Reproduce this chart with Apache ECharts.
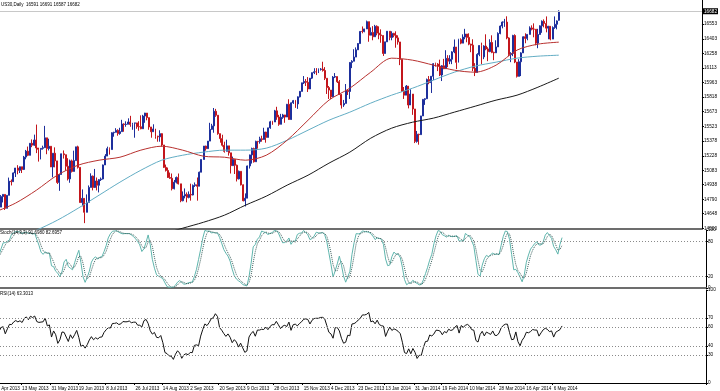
<!DOCTYPE html>
<html><head><meta charset="utf-8">
<script src="https://cdn.jsdelivr.net/npm/echarts@6/dist/echarts.min.js"></script>
<style>html,body{margin:0;padding:0;background:#fff;overflow:hidden;width:720px;height:391px;position:relative}
#c{position:absolute;left:-42px;top:0;width:762px;height:391px}</style>
</head><body><div id="c"></div>
<script>
// ---------- data ----------
const mainTitle = 'US30,Daily  16591 16691 16587 16682';
const stochTitle = 'Stoch(14,3,3) 91.6980 82.6957';
const rsiTitle = 'RSI(14) 63.3013';
const firstDay = '2013-04-01';
const lastDay = '2014-05-12';
const closedDays = ['2013-12-25', '2014-01-01', '2014-04-18'];
const padBars = 68;
const xTickLabels = ['24 Apr 2013','13 May 2013','31 May 2013','19 Jun 2013','8 Jul 2013','26 Jul 2013','14 Aug 2013','2 Sep 2013','20 Sep 2013','9 Oct 2013','28 Oct 2013','15 Nov 2013','4 Dec 2013','23 Dec 2013','13 Jan 2014','31 Jan 2014','19 Feb 2014','10 Mar 2014','28 Mar 2014','16 Apr 2014','6 May 2014'];
const priceTicks = [16553,16403,16258,16113,15963,15818,15673,15523,15378,15228,15083,14938,14790,14648,14500];
const stochTicks = [0,20,80,100];
const stochLevels = [20,80];
const rsiTicks = [0,30,40,60,70,100];
const rsiLevels = [30,40,60,70];
const currentPrice = 16682;

// daily bars: [open, close, low, high]
const ohlc = [
// Apr 2013
[14580,14573,14532,14600],[14574,14662,14574,14684],[14661,14550,14522,14670],[14550,14607,14540,14626],[14606,14565,14434,14606],
[14565,14613,14536,14615],[14613,14673,14591,14710],[14673,14802,14673,14826],[14802,14865,14795,14888],[14865,14865,14776,14870],
[14865,14599,14582,14866],[14599,14757,14599,14758],[14757,14619,14555,14757],[14619,14537,14444,14628],[14537,14548,14510,14582],
[14548,14568,14465,14600],[14568,14719,14568,14726],[14719,14676,14640,14720],[14676,14700,14676,14770],[14700,14712,14640,14720],
[14712,14818,14712,14833],[14818,14840,14759,14840],
// May 2013
[14840,14700,14683,14840],[14700,14831,14700,14831],[14831,14973,14831,15009],
[14973,14968,14930,14990],[14968,15056,14968,15061],[15056,15105,15015,15106],[15105,15082,15042,15134],[15082,15118,15055,15119],
[15118,15091,15055,15118],[15091,15215,15085,15227],[15215,15275,15193,15287],[15275,15233,15225,15321],[15233,15354,15233,15355],
[15354,15335,15315,15393],[15335,15387,15328,15441],[15387,15307,15255,15542],[15307,15294,15170,15307],[15294,15303,15192,15303],
[15303,15310,15290,15330],[15310,15409,15310,15529],[15409,15302,15244,15409],[15302,15324,15282,15400],[15324,15116,15115,15324],
// Jun 2013
[15116,15254,15012,15254],[15254,15177,15112,15313],[15177,14960,14945,15177],[14960,15040,14876,15041],[15040,15248,15040,15250],
[15248,15239,15200,15282],[15239,15123,15080,15239],[15123,14996,14980,15204],[14996,15177,14957,15190],[15177,15071,15060,15190],
[15071,15180,15071,15280],[15180,15318,15180,15319],[15318,15112,15100,15330],[15112,14758,14755,15112],[14758,14800,14720,14890],
[14800,14660,14551,14800],[14660,14760,14660,14840],[14760,14910,14760,14930],[14910,15024,14910,15052],[15024,14910,14880,15030],
// Jul 2013
[14910,14975,14905,15096],[14975,14932,14880,15010],[14932,14988,14860,14995],[14988,14995,14975,15010],[14995,15136,14990,15140],
[15136,15225,15136,15245],[15225,15300,15225,15320],[15300,15291,15240,15312],[15291,15460,15291,15465],[15460,15464,15420,15470],
[15464,15484,15464,15506],[15484,15452,15430,15495],[15452,15471,15440,15510],[15471,15548,15471,15590],[15548,15543,15470,15555],
[15543,15545,15520,15575],[15545,15568,15545,15605],[15568,15543,15520,15630],[15543,15556,15490,15560],[15556,15559,15410,15560],
[15559,15521,15500,15560],[15521,15520,15480,15576],[15520,15500,15495,15635],
// Aug 2013
[15500,15628,15500,15640],[15628,15658,15560,15660],
[15658,15612,15585,15658],[15612,15518,15490,15612],[15518,15470,15410,15518],[15470,15498,15470,15545],[15498,15425,15400,15500],
[15425,15419,15370,15430],[15419,15451,15370,15485],[15451,15337,15320,15455],[15337,15112,15105,15337],[15112,15081,15070,15140],
[15081,15010,15005,15110],[15010,15002,14995,15060],[15002,14897,14880,15050],[14897,14963,14890,14985],[14963,15010,14950,15020],
[15010,14946,14940,15050],[14946,14776,14761,14946],[14776,14824,14770,14870],[14824,14840,14800,14900],[14840,14810,14760,14860],
// Sep 2013
[14810,14840,14800,14870],[14840,14834,14777,14948],[14834,14930,14830,14940],[14930,14937,14915,14960],[14937,14922,14777,15010],
[14922,15063,14922,15070],[15063,15191,15063,15192],[15191,15326,15191,15327],[15326,15300,15280,15330],[15300,15376,15300,15377],
[15376,15494,15376,15560],[15494,15529,15490,15550],[15529,15676,15460,15709],[15676,15636,15620,15700],[15636,15451,15440,15636],
[15451,15401,15360,15451],[15401,15334,15320,15440],[15334,15273,15260,15370],[15273,15328,15273,15390],[15328,15258,15230,15328],
[15258,15129,15050,15258],
// Oct 2013
[15129,15191,15129,15220],[15191,15133,15045,15191],[15133,14996,14970,15140],[14996,15072,14990,15080],
[15072,14936,14930,15072],[14936,14776,14770,14940],[14776,14802,14719,14850],[14802,15126,14802,15130],[15126,15237,15100,15240],
[15237,15301,15150,15310],[15301,15168,15160,15310],[15168,15373,15168,15380],[15373,15371,15300,15378],[15371,15399,15350,15420],
[15399,15392,15370,15430],[15392,15467,15392,15510],[15467,15413,15360,15470],[15413,15509,15413,15510],[15509,15570,15500,15580],
[15570,15568,15540,15580],[15568,15680,15568,15690],[15680,15618,15590,15721],[15618,15545,15530,15640],
// Nov 2013
[15545,15615,15545,15650],
[15615,15639,15600,15650],[15639,15618,15560,15640],[15618,15746,15618,15750],[15746,15593,15590,15797],[15593,15761,15590,15765],
[15761,15783,15750,15790],[15783,15750,15710,15790],[15750,15821,15700,15825],[15821,15876,15815,15880],[15876,15962,15876,15963],
[15962,15976,15950,16030],[15976,15967,15930,16000],[15967,15900,15870,16020],[15900,16009,15900,16010],[16009,16064,16000,16065],
[16064,16073,16050,16109],[16073,16072,16040,16110],[16072,16097,16060,16107],[16097,16100,16085,16110],[16100,16086,16075,16174],
// Dec 2013
[16086,16008,15990,16120],[16008,15914,15850,16008],[15914,15889,15800,15930],[15889,15821,15800,15890],[15821,16020,15821,16030],
[16020,16025,16010,16060],[16025,15973,15960,16025],[15973,15844,15840,15990],[15844,15739,15703,15850],[15739,15755,15720,15790],
[15755,15885,15755,15950],[15885,15875,15840,15900],[15875,16167,15800,16170],[16167,16179,16110,16190],[16179,16221,16179,16300],
[16221,16294,16221,16318],[16294,16357,16294,16360],[16357,16479,16357,16483],[16479,16478,16460,16529],
[16478,16504,16470,16505],[16504,16577,16504,16588],
// Jan 2014
[16577,16441,16375,16577],[16441,16469,16440,16519],
[16469,16425,16390,16532],[16425,16531,16425,16545],[16531,16462,16440,16540],[16462,16444,16400,16530],[16444,16437,16365,16500],
[16437,16257,16232,16440],[16257,16374,16257,16375],[16374,16481,16374,16482],[16481,16418,16390,16481],[16418,16459,16390,16480],
[16459,16440,16420,16465],[16440,16414,16315,16480],[16414,16373,16346,16440],[16373,16198,16140,16373],[16198,15879,15872,16198],
[15879,15838,15800,15920],[15838,15929,15838,15940],[15929,15739,15705,15929],[15739,15849,15739,15897],[15849,15699,15640,15849],
// Feb 2014
[15699,15373,15356,15699],[15373,15445,15360,15478],[15445,15441,15340,15450],[15441,15629,15441,15630],[15629,15795,15629,15800],
[15795,15802,15740,15806],[15802,15995,15802,16005],[15995,15964,15948,16030],[15964,16028,15860,16030],[16028,16154,15990,16160],
[16154,16150,16125,16165],[16150,16130,16080,16160],[16130,16041,16030,16195],[16041,16133,15980,16140],[16133,16104,16100,16203],
[16104,16208,16104,16290],[16208,16180,16120,16240],[16180,16199,16150,16240],[16199,16273,16150,16280],[16273,16322,16260,16398],
// Mar 2014
[16322,16168,16100,16322],[16168,16396,16168,16405],[16396,16361,16350,16410],[16361,16422,16361,16450],[16422,16453,16400,16505],
[16453,16419,16370,16453],[16419,16351,16340,16460],[16351,16341,16270,16355],[16341,16109,16080,16400],[16109,16066,16030,16160],
[16066,16248,16066,16260],[16248,16337,16230,16340],[16337,16223,16150,16366],[16223,16332,16200,16340],[16332,16303,16290,16450],
[16303,16276,16180,16320],[16276,16368,16270,16400],[16368,16268,16260,16440],[16268,16264,16190,16275],[16264,16323,16264,16390],
[16323,16458,16323,16470],
// Apr 2014
[16458,16533,16450,16540],[16533,16573,16510,16580],[16573,16573,16525,16605],[16573,16413,16400,16631],
[16413,16246,16230,16420],[16246,16257,16170,16270],[16257,16438,16230,16445],[16438,16171,16160,16450],[16171,16027,16015,16171],
[16027,16174,16027,16200],[16174,16263,16030,16270],[16263,16425,16263,16430],[16425,16409,16360,16460],
[16409,16449,16390,16450],[16449,16514,16449,16530],[16514,16502,16490,16540],[16502,16501,16420,16560],[16501,16361,16340,16501],
[16361,16448,16310,16505],[16448,16535,16448,16540],[16535,16581,16465,16590],
// May 2014
[16581,16559,16520,16600],[16559,16512,16470,16630],
[16512,16531,16400,16535],[16531,16402,16390,16531],[16402,16518,16402,16530],[16518,16551,16505,16630],[16551,16584,16500,16590],
[16591,16682,16587,16691]
];

// moving averages, one value every 10 bars from 24 Apr 2013
const maFirstDay = '2013-04-24';
const maStep = 10;
const maRed = [14661,14752,14882,15033,15134,15184,15214,15285,15325,15285,15224,15214,15184,15234,15385,15586,15788,15908,16069,16210,16190,16140,16089,16069,16140,16291,16351,16371];
const maTeal = [14329,14400,14480,14580,14701,14832,14963,15083,15184,15234,15265,15285,15285,15305,15385,15486,15586,15667,15758,15838,15908,15989,16069,16130,16170,16210,16230,16240];
const maBlack = [13876,13947,14017,14098,14178,14249,14319,14379,14440,14500,14560,14631,14731,14822,14933,15033,15154,15265,15405,15506,15566,15607,15667,15727,15788,15838,15918,16009];

// ---------- build ----------
const MONTHS = ['Jan','Feb','Mar','Apr','May','Jun','Jul','Aug','Sep','Oct','Nov','Dec'];
function iso(d){return d.toISOString().slice(0,10);}
const cats = [];
for (let d = new Date(firstDay+'T00:00:00Z'); iso(d) <= lastDay; d.setUTCDate(d.getUTCDate()+1)) {
  const wd = d.getUTCDay();
  if (wd === 0 || wd === 6) continue;
  if (closedDays.includes(iso(d))) continue;
  cats.push(iso(d));
}
const nBars = ohlc.length;
for (let i = 0; i < padBars; i++) cats.push('pad' + i);
const N = cats.length;
function fmt(v){ if (!/^\d{4}-/.test(v)) return ''; const [y,m,d] = v.split('-'); return (+d) + ' ' + MONTHS[+m-1] + ' ' + y; }

const closes = ohlc.map(b=>b[1]), lows = ohlc.map(b=>b[2]), highs = ohlc.map(b=>b[3]);

function sparse(vals){
  const out = new Array(N).fill(null);
  const s = cats.indexOf(maFirstDay);
  vals.forEach((v,k)=>{ out[s + k*maStep] = v; });
  return out;
}

// Stochastic (14,3,3)
function stochastic(kp, slow, dp){
  const num=[], den=[], K=new Array(N).fill(null), D=new Array(N).fill(null);
  for (let i=0;i<nBars;i++){
    if (i<kp-1){num.push(null);den.push(null);continue;}
    let ll=Infinity, hh=-Infinity;
    for (let j=i-kp+1;j<=i;j++){ll=Math.min(ll,lows[j]);hh=Math.max(hh,highs[j]);}
    num.push(closes[i]-ll); den.push(hh-ll);
    if (i<kp-1+slow-1) continue;
    let sn=0, sd=0;
    for (let j=i-slow+1;j<=i;j++){sn+=num[j];sd+=den[j];}
    K[i] = sd ? 100*sn/sd : 100;
  }
  for (let i=0;i<nBars;i++){
    let ok=true, s=0;
    for (let j=i-dp+1;j<=i;j++){ if (j<0||K[j]==null){ok=false;break;} s+=K[j]; }
    if (ok) D[i]=s/dp;
  }
  return [K,D];
}
// RSI (14), Wilder smoothing
function rsi(p){
  const out = new Array(N).fill(null);
  let ag=0, al=0;
  for (let i=1;i<=p;i++){const ch=closes[i]-closes[i-1]; ag+=Math.max(ch,0); al+=Math.max(-ch,0);}
  ag/=p; al/=p;
  out[p] = al===0?100:100-100/(1+ag/al);
  for (let i=p+1;i<nBars;i++){
    const ch=closes[i]-closes[i-1];
    ag=(ag*(p-1)+Math.max(ch,0))/p; al=(al*(p-1)+Math.max(-ch,0))/p;
    out[i] = al===0?100:100-100/(1+ag/al);
  }
  return out;
}
const [stK, stD] = stochastic(14,3,3);
const rsiV = rsi(14);

const FONT = 'Liberation Sans';
const labelFn = (idx, val) => xTickLabels.includes(fmt(val));

function xAx(gi, bottom){
  return {
    type:'category', gridIndex: gi, data: cats, boundaryGap: true,
    axisLine: {show:true, lineStyle: bottom ? {color:'#000', width:1} : {color:'#6d6d6d', width:2}},
    axisTick: {show: bottom, interval: labelFn, length: 2, lineStyle:{color:'#000'}},
    axisLabel: {show: bottom, interval: labelFn, formatter: fmt, align:'left', fontSize:4.6, margin:3, color:'#000', fontFamily: FONT},
    splitLine: {show:false}
  };
}
function yAx(gi, min, max, ticks){
  return {
    type:'value', gridIndex: gi, position:'right', min, max,
    axisLine:{show:true, lineStyle:{color:'#000', width:1}},
    axisTick:{show:true, length:2, customValues: ticks, lineStyle:{color:'#000'}},
    axisLabel:{show:true, customValues: ticks, formatter: v => String(Math.round(v)), fontSize:4.7, margin:2, color:'#000', fontFamily: FONT},
    splitLine:{show:false}
  };
}
function levels(vals){
  return {
    silent:true, symbol:'none', animation:false,
    lineStyle:{color:'#8a8a8a', type:[1,2], width:1},
    label:{show:false},
    data: vals.map(v=>({yAxis:v}))
  };
}
const tStyle = {fontSize:4.5, fontWeight:'normal', color:'#000', fontFamily:FONT};

const chart = echarts.init(document.getElementById('c'), null, {renderer:'canvas'});
chart.setOption({
  animation:false,
  backgroundColor:'#fff',
  title:[
    {text: mainTitle, left:43, top:2, padding:0, textStyle:tStyle},
    {text: stochTitle, left:42, top:230, padding:0, textStyle:tStyle},
    {text: rsiTitle, left:42, top:291, padding:0, textStyle:tStyle}
  ],
  grid:[
    {left:0, right:14, top:0, height:229},
    {left:0, right:14, top:230, height:58},
    {left:0, right:14, top:290, height:94}
  ],
  xAxis:[xAx(0,false), xAx(1,false), xAx(2,true)],
  yAxis:[yAx(0,14492,16795,priceTicks), yAx(1,0,100,stochTicks), yAx(2,0,100,rsiTicks)],
  series:[
    {type:'candlestick', xAxisIndex:0, yAxisIndex:0, data: ohlc, barWidth:'70%',
     itemStyle:{color:'#1d2f9c', color0:'#c3161c', borderColor:'#1d2f9c', borderColor0:'#c3161c', borderWidth:1},
     markLine:{silent:true, symbol:'none', animation:false,
       lineStyle:{color:'#c8c8c8', type:'solid', width:1},
       label:{show:true, position:'end', distance:1, formatter: String(currentPrice), color:'#fff', backgroundColor:'#000', fontSize:4.7, padding:[1,1,0,1], fontFamily:FONT},
       data:[{yAxis: currentPrice}]}},
    {type:'line', xAxisIndex:0, yAxisIndex:0, data: sparse(maBlack), connectNulls:true, smooth:0.3, showSymbol:false, lineStyle:{color:'#1a1a1a', width:1}},
    {type:'line', xAxisIndex:0, yAxisIndex:0, data: sparse(maTeal), connectNulls:true, smooth:0.3, showSymbol:false, lineStyle:{color:'#63adc4', width:1}},
    {type:'line', xAxisIndex:0, yAxisIndex:0, data: sparse(maRed), connectNulls:true, smooth:0.3, showSymbol:false, lineStyle:{color:'#b8312f', width:1}},
    {type:'line', xAxisIndex:1, yAxisIndex:1, data: stK, showSymbol:false, lineStyle:{color:'#5fb5ad', width:1}, markLine: levels(stochLevels)},
    {type:'line', xAxisIndex:1, yAxisIndex:1, data: stD, showSymbol:false, lineStyle:{color:'#3c5f5c', width:1, type:[1,1]}},
    {type:'line', xAxisIndex:2, yAxisIndex:2, data: rsiV, showSymbol:false, lineStyle:{color:'#111', width:1}, markLine: levels(rsiLevels)}
  ]
});
</script>
</body></html>
